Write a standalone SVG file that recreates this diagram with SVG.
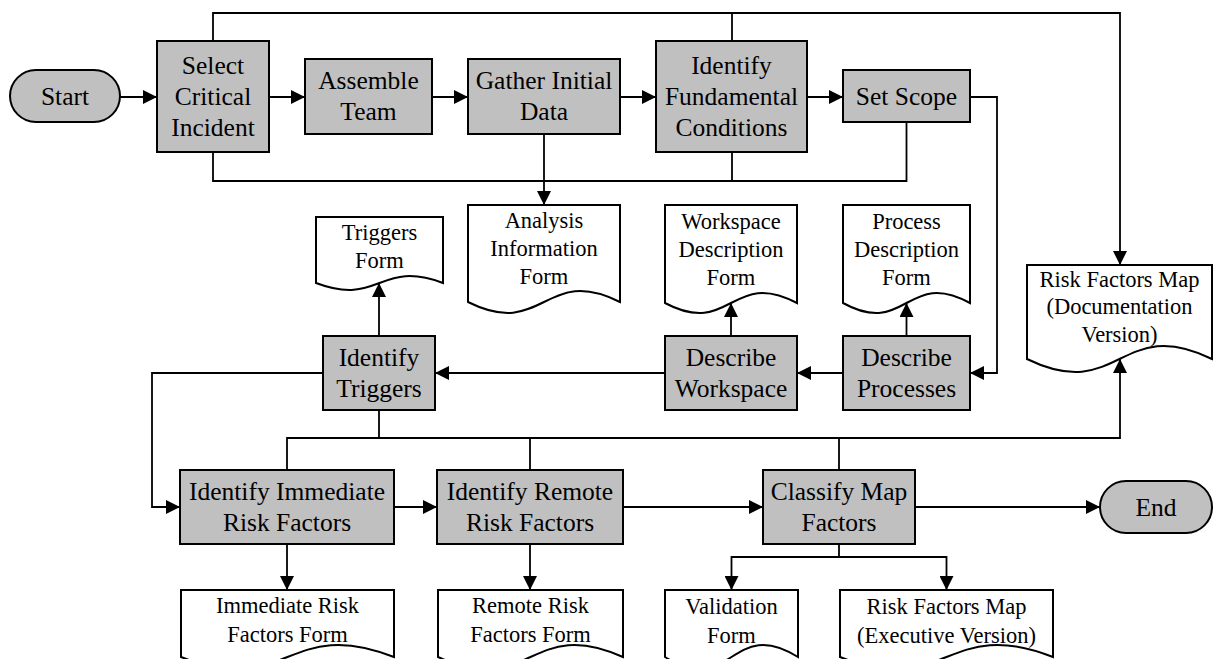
<svg xmlns="http://www.w3.org/2000/svg" width="1214" height="659" viewBox="0 0 1214 659">
  <style>
    .proc { fill: #c0c0c0; stroke: #000; stroke-width: 2; }
    .doc { fill: #fff; stroke: #000; stroke-width: 2; stroke-linejoin: miter; }
    .lbl { font-size: 25.5px; fill: #000; text-anchor: middle; }
    .dlbl { font-size: 22.5px; fill: #000; text-anchor: middle; }
    .wire { fill: none; stroke: #000; stroke-width: 1.8; }
    .arrow { marker-end: url(#head); }
  </style>
  <defs>
    <marker id="head" markerUnits="userSpaceOnUse" markerWidth="14" markerHeight="14" refX="14" refY="7" orient="auto">
      <path d="M0,0 L14,7 L0,14 Z" fill="#000"/>
    </marker>
  </defs>

  <!-- connectors -->
  <g id="connectors">
    <path class="wire arrow" d="M120,97 H157"/>
    <path class="wire arrow" d="M269,97 H305"/>
    <path class="wire arrow" d="M432,97 H468"/>
    <path class="wire arrow" d="M620,97 H656"/>
    <path class="wire arrow" d="M807,97 H843"/>
    <!-- upper bus to the documentation map -->
    <path class="wire arrow" d="M213,41 V13 H1120 V265"/>
    <path class="wire" d="M732,41 V13"/>
    <!-- lower bus of the first stage -->
    <path class="wire" d="M213,152 V181 H906.5 V122"/>
    <path class="wire" d="M732,152 V181"/>
    <path class="wire arrow" d="M544,134 V205"/>
    <path class="wire arrow" d="M970,97 H997 V373 H970"/>
    <path class="wire arrow" d="M843,373 H797"/>
    <path class="wire arrow" d="M665,373 H435"/>
    <path class="wire arrow" d="M731,336 V303"/>
    <path class="wire arrow" d="M906.5,336 V303"/>
    <path class="wire arrow" d="M379,336 V283"/>
    <path class="wire arrow" d="M323,373 H152 V507 H180"/>
    <!-- analysis bus feeding the documentation map -->
    <path class="wire" d="M379,410 V438"/>
    <path class="wire arrow" d="M287,470 V438 H1120 V359"/>
    <path class="wire" d="M530,438 V470"/>
    <path class="wire" d="M839,438 V470"/>
    <path class="wire arrow" d="M287,544 V590"/>
    <path class="wire arrow" d="M394,507 H437"/>
    <path class="wire arrow" d="M530,544 V590"/>
    <path class="wire arrow" d="M623,507 H763"/>
    <path class="wire arrow" d="M915,507 H1100"/>
    <path class="wire" d="M839,544 V557"/>
    <path class="wire arrow" d="M839,557 H731.5 V590"/>
    <path class="wire arrow" d="M839,557 H946.5 V590"/>
  </g>

  <g font-family="'Liberation Serif', 'DejaVu Serif', serif">
  <!-- terminals -->
  <g id="start">
    <rect class="proc" x="10" y="70" width="110" height="52" rx="26" ry="26"/>
    <text class="lbl" x="65" y="105">Start</text>
  </g>
  <g id="end">
    <rect class="proc" x="1100" y="481" width="112" height="52" rx="26" ry="26"/>
    <text class="lbl" x="1156" y="516">End</text>
  </g>

  <!-- process steps -->
  <g id="select-critical-incident">
    <rect class="proc" x="157" y="41" width="112" height="111"/>
    <text class="lbl" x="213" y="73.5">Select</text>
    <text class="lbl" x="213" y="104.5">Critical</text>
    <text class="lbl" x="213" y="135.5">Incident</text>
  </g>
  <g id="assemble-team">
    <rect class="proc" x="305" y="59" width="127" height="75"/>
    <text class="lbl" x="368.5" y="89">Assemble</text>
    <text class="lbl" x="368.5" y="120">Team</text>
  </g>
  <g id="gather-initial-data">
    <rect class="proc" x="468" y="59" width="152" height="75"/>
    <text class="lbl" x="544" y="89">Gather Initial</text>
    <text class="lbl" x="544" y="120">Data</text>
  </g>
  <g id="identify-fundamental-conditions">
    <rect class="proc" x="656" y="41" width="151" height="111"/>
    <text class="lbl" x="731.5" y="73.5">Identify</text>
    <text class="lbl" x="731.5" y="104.5">Fundamental</text>
    <text class="lbl" x="731.5" y="135.5">Conditions</text>
  </g>
  <g id="set-scope">
    <rect class="proc" x="843" y="70" width="127" height="52"/>
    <text class="lbl" x="906.5" y="105">Set Scope</text>
  </g>
  <g id="identify-triggers">
    <rect class="proc" x="323" y="336" width="112" height="74"/>
    <text class="lbl" x="379" y="366">Identify</text>
    <text class="lbl" x="379" y="397">Triggers</text>
  </g>
  <g id="describe-workspace">
    <rect class="proc" x="665" y="336" width="132" height="74"/>
    <text class="lbl" x="731" y="366">Describe</text>
    <text class="lbl" x="731" y="397">Workspace</text>
  </g>
  <g id="describe-processes">
    <rect class="proc" x="843" y="336" width="127" height="74"/>
    <text class="lbl" x="906.5" y="366">Describe</text>
    <text class="lbl" x="906.5" y="397">Processes</text>
  </g>
  <g id="identify-immediate-risk-factors">
    <rect class="proc" x="180" y="470" width="214" height="74"/>
    <text class="lbl" x="287" y="500">Identify Immediate</text>
    <text class="lbl" x="287" y="531">Risk Factors</text>
  </g>
  <g id="identify-remote-risk-factors">
    <rect class="proc" x="437" y="470" width="186" height="74"/>
    <text class="lbl" x="530" y="500">Identify Remote</text>
    <text class="lbl" x="530" y="531">Risk Factors</text>
  </g>
  <g id="classify-map-factors">
    <rect class="proc" x="763" y="470" width="152" height="74"/>
    <text class="lbl" x="839" y="500">Classify Map</text>
    <text class="lbl" x="839" y="531">Factors</text>
  </g>

  <!-- documents -->
  <g id="analysis-information-form">
    <path class="doc" d="M468,205 H620 V302 C544,264 544,340 468,302 Z"/>
    <text class="dlbl" x="544" y="228">Analysis</text>
    <text class="dlbl" x="544" y="256">Information</text>
    <text class="dlbl" x="544" y="284">Form</text>
  </g>
  <g id="triggers-form">
    <path class="doc" d="M316,217 H443 V283 C379.5,259 379.5,307 316,283 Z"/>
    <text class="dlbl" x="379.5" y="240">Triggers</text>
    <text class="dlbl" x="379.5" y="268">Form</text>
  </g>
  <g id="workspace-description-form">
    <path class="doc" d="M665,205 H797 V303 C731,268 731,338 665,303 Z"/>
    <text class="dlbl" x="731" y="229">Workspace</text>
    <text class="dlbl" x="731" y="257">Description</text>
    <text class="dlbl" x="731" y="285">Form</text>
  </g>
  <g id="process-description-form">
    <path class="doc" d="M843,205 H970 V303 C906.5,268 906.5,338 843,303 Z"/>
    <text class="dlbl" x="906.5" y="229">Process</text>
    <text class="dlbl" x="906.5" y="257">Description</text>
    <text class="dlbl" x="906.5" y="285">Form</text>
  </g>
  <g id="risk-factors-map-documentation">
    <path class="doc" d="M1027,265 H1212 V359 C1119.5,314 1119.5,404 1027,359 Z"/>
    <text class="dlbl" x="1119.5" y="287">Risk Factors Map</text>
    <text class="dlbl" x="1119.5" y="314">(Documentation</text>
    <text class="dlbl" x="1119.5" y="342">Version)</text>
  </g>
  <g id="immediate-risk-factors-form">
    <path class="doc" d="M181,590 H394 V657 C287.5,615 287.5,699 181,657 Z"/>
    <text class="dlbl" x="287.5" y="613">Immediate Risk</text>
    <text class="dlbl" x="287.5" y="642">Factors Form</text>
  </g>
  <g id="remote-risk-factors-form">
    <path class="doc" d="M438,590 H623 V657 C530.5,615 530.5,699 438,657 Z"/>
    <text class="dlbl" x="530.5" y="613">Remote Risk</text>
    <text class="dlbl" x="530.5" y="642">Factors Form</text>
  </g>
  <g id="validation-form">
    <path class="doc" d="M665,590 H798 V657 C731.5,615 731.5,699 665,657 Z"/>
    <text class="dlbl" x="731.5" y="614">Validation</text>
    <text class="dlbl" x="731.5" y="643">Form</text>
  </g>
  <g id="risk-factors-map-executive">
    <path class="doc" d="M840,590 H1053 V657 C946.5,615 946.5,699 840,657 Z"/>
    <text class="dlbl" x="946.5" y="614">Risk Factors Map</text>
    <text class="dlbl" x="946.5" y="643">(Executive Version)</text>
  </g>
  </g>
</svg>
